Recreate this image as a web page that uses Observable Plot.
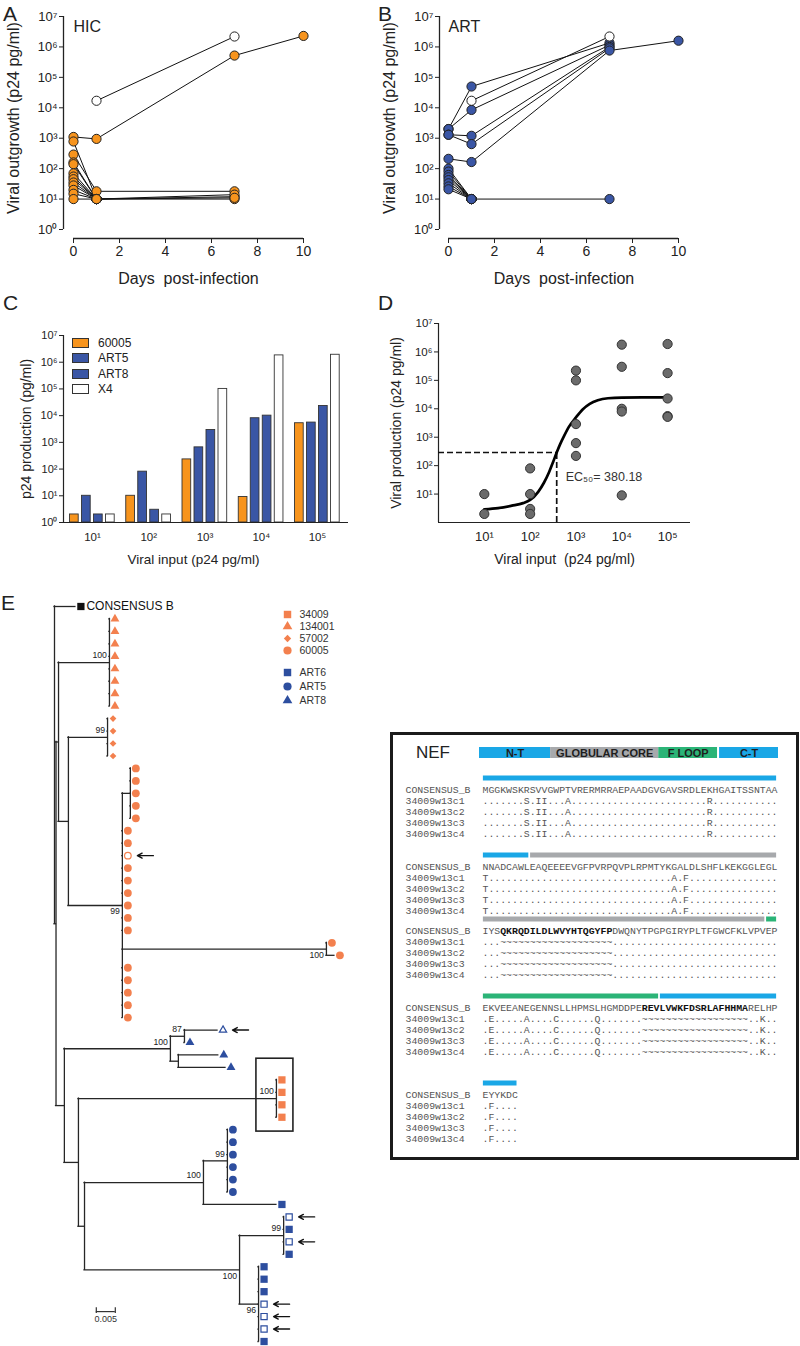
<!DOCTYPE html>
<html>
<head>
<meta charset="utf-8">
<script src="https://cdn.jsdelivr.net/npm/d3@7"></script>
<script src="https://cdn.jsdelivr.net/npm/@observablehq/plot@0.6"></script>
<style>
html,body{margin:0;padding:0;background:#fff;}
#fig{position:relative;width:800px;height:1346px;overflow:hidden;font-family:"Liberation Sans",Arial,sans-serif;color:#222;}
#fig > *{position:absolute;}
.letter{font-size:21px;line-height:1;}
.legend-c{font-size:12px;}
.legend-c .row{display:flex;align-items:center;height:15.5px;}
.legend-c .sw{width:15px;height:8px;border:1px solid #333;margin-right:9px;}
#nefbox{box-sizing:border-box;border:3px solid #1b1b1b;}
.nef-title{font-size:17px;line-height:1;}
</style>
</head>
<body>
<div id="fig"></div>
<script>
const FONT = '"Liberation Sans", Arial, sans-serif';
const MONO = '"Liberation Mono", "Courier New", monospace';
const SUP = ["⁰","¹","²","³","⁴","⁵","⁶","⁷"];
const pow10 = v => "10" + SUP[Math.round(Math.log10(v))];

// ---------------- Panel A / B : viral outgrowth ----------------
const logTicks = [1, 10, 100, 1e3, 1e4, 1e5, 1e6, 1e7];
const dayTicks = [0, 2, 4, 6, 8, 10];
const hicColor = "#F7941D";
const artColor = "#3A56A5";
const hicSeries = [
  {open: true, pts: [[1, 17000], [7, 2.2e6]]},
  {pts: [[0, 1100], [1, 950], [7, 5.2e5], [10, 2.3e6]]},
  {pts: [[0, 780], [1, 10], [7, 12]]},
  {pts: [[0, 290], [1, 18], [7, 18]]},
  {pts: [[0, 160], [1, 10], [7, 14]]},
  {pts: [[0, 140], [1, 10], [7, 10]]},
  {pts: [[0, 70], [1, 10], [7, 11]]},
  {pts: [[0, 55], [1, 10]]},
  {pts: [[0, 45], [1, 10]]},
  {pts: [[0, 35], [1, 10]]},
  {pts: [[0, 28], [1, 10]]},
  {pts: [[0, 20], [1, 10]]},
  {pts: [[0, 15], [1, 10]]},
  {pts: [[0, 10], [1, 10]]}
];
const artSeries = [
  {open: true, pts: [[1, 17000], [7, 2.2e6]]},
  {pts: [[0, 2000], [1, 50000], [7, 1.35e6]]},
  {pts: [[0, 2000], [1, 8500], [7, 1.15e6]]},
  {pts: [[0, 1300], [1, 1200], [7, 1.0e6]]},
  {pts: [[0, 1300], [1, 640], [7, 9.0e5]]},
  {pts: [[0, 210], [1, 165], [7, 7.6e5], [10, 1.6e6]]},
  {pts: [[0, 100], [1, 10], [7, 10]]},
  {pts: [[0, 80], [1, 10]]},
  {pts: [[0, 62], [1, 10]]},
  {pts: [[0, 52], [1, 10]]},
  {pts: [[0, 42], [1, 10]]},
  {pts: [[0, 33], [1, 10]]},
  {pts: [[0, 26], [1, 10]]},
  {pts: [[0, 21], [1, 10]]}
];

// ---------------- Panel C : p24 production bars ----------------
const inputLevels = [10, 100, 1000, 10000, 100000];
const isolates = ["60005", "ART5", "ART8", "X4"];
const isolateColors = ["#F7941D", "#3A56A5", "#3A56A5", "#FFFFFF"];
const p24_60005 = [2, 10, 230, 9, 5200];
const p24_ART5 = [10, 80, 650, 8000, 5500];
const p24_ART8 = [2, 3, 2900, 10000, 23000];
const p24_X4 = [2, 2, 100000, 1.8e6, 1.9e6];
const p24Production = [p24_60005, p24_ART5, p24_ART8, p24_X4];

// ---------------- Panel D : dose response ----------------
const dInputs = [10, 100, 1000, 10000, 100000];
const dProduction = [
  [10, 2],
  [80, 10, 3, 2],
  [2.2e5, 1e5, 2900, 620, 220],
  [1.8e6, 3e5, 10000, 8000, 9],
  [1.9e6, 1.8e5, 23000, 5500, 5200]
];
const fitInput  = [10, 20, 40, 70, 100, 150, 200, 260, 320, 380, 450, 550, 700, 1000, 1400, 2000, 3000, 5000, 10000, 30000, 100000];
const fitOutput = [2.9, 3.2, 3.9, 4.8, 6.2, 12, 25, 60, 140, 290, 560, 1100, 2300, 5000, 9500, 15000, 20000, 23500, 24800, 25000, 25000];
const ec50 = 380.18;
const ec50Level = 290;

// ---------------- Panel E : tree (Newick, branch lengths in subst./site) ----------------
const newick =
"(CONSENSUS_B:0.0055," +
 "(" +
  "(" +
   "(134001:0,134001:0,134001:0,134001:0,134001:0,134001:0,134001:0,134001:0)100:0.0134," +
   "(" +
    "(57002:0,57002:0,57002:0,57002:0)99:0.0103," +
    "(" +
     "(60005:0,60005:0,60005:0,60005:0,60005:0):0.0021," +
     "60005:0,60005:0,60005o:0,60005:0,60005:0,60005:0,60005:0,60005:0,60005:0," +
     "(60005:0,60005:0.0021)100v:0.0537," +
     "60005:0,60005:0,60005:0,60005:0,60005:0" +
    ")99v:0.0142" +
   "):0.0026" +
  "):0.00066," +
  "(" +
   "(" +
    "(ART8o:0.0087,ART8:0)87:0.0037," +
    "(ART8:0.0105,ART8:0.0124):0.0021" +
   ")100:0.0279," +
   "(" +
    "(34009:0,34009:0,34009:0,34009:0)100:0.0521," +
    "(" +
     "(" +
      "(ART5:0,ART5:0,ART5:0,ART5:0,ART5:0,ART5:0)99:0.0063," +
      "ART6:0.0192" +
     ")100:0.0313," +
     "(" +
      "(ART6o:0,ART6:0,ART6o:0,ART6:0)99:0.0116," +
      "(ART6:0,ART6:0,ART6:0,ART6o:0,ART6o:0,ART6o:0,ART6:0)96v:0.005" +
     ")100v:0.0408" +
    "):0.0016" +
   "):0.0037" +
  "):0.0022" +
 "):0.0004" +
");";
const treeGroups = ["34009", "134001", "57002", "60005"];
const artGroups = ["ART6", "ART5", "ART8"];
const groupSymbol = {"34009": "square", "134001": "triangle", "57002": "diamond2", "60005": "circle",
                     "ART6": "square", "ART5": "circle", "ART8": "triangle", "CONSENSUS_B": "square"};
const treeOrange = "#F3804E";
const treeBlue = "#2D4E9F";
const boxedGroup = "34009";
const scaleBar = {from: 0.011, length: 0.005, row: 56.6};

// ---------------- NEF alignment ----------------
const nefRowNames = ["CONSENSUS_B", "34009w13c1", "34009w13c2", "34009w13c3", "34009w13c4"];
const nefConsensus = [
  "MGGKWSKRSVVGWPTVRERMRRAEPAADGVGAVSRDLEKHGAITSSNTAA",
  "NNADCAWLEAQEEEEVGFPVRPQVPLRPMTYKGALDLSHFLKEKGGLEGL",
  "IYSQKRQDILDLWVYHTQGYFPDWQNYTPGPGIRYPLTFGWCFKLVPVEP",
  "EKVEEANEGENNSLLHPMSLHGMDDPEREVLVWKFDSRLAFHHMARELHP",
  "EYYKDC"
];
const nefVariant = [
  ".......S.II...A" + ".........." + ".........." + "..." + "R" + ".........." + ".",
  "T" + ".........." + ".........." + ".........." + "." + "A.F" + ".........." + ".....",
  "..." + "~~~~~~~~~~" + "~~~~~~~~~" + ".........." + ".........." + "........",
  ".E" + "....." + "A" + "...." + "C" + "......" + "Q" + "......." + "~~~~~~~~~~" + "~~~~~~~~" + "..K..",
  ".F...."
];
const nefBold = [null, null, [3, 21], [27, 44], null];
const nefBlue = "#1AA7E6", nefGray = "#A7A9AC", nefGreen = "#2BB477";
const nefDomains = [
  {name: "N-T", from: 1, to: 58, color: nefBlue},
  {name: "GLOBULAR CORE", from: 59, to: 148, color: nefGray},
  {name: "F LOOP", from: 149, to: 180, color: nefGreen},
  {name: "C-T", from: 181, to: 206, color: nefBlue}
];
const nefSchematic = [
  {name: "N-T", from: 0, to: 49, color: nefBlue},
  {name: "GLOBULAR CORE", from: 49, to: 123.5, color: nefGray},
  {name: "F LOOP", from: 123.5, to: 164, color: nefGreen},
  {name: "C-T", from: 165.4, to: 206, color: nefBlue}
];

// =====================================================================
const fig = document.getElementById("fig");
const baseStyle = {fontFamily: FONT, fontSize: "12px", color: "#222", background: "transparent", overflow: "visible"};
function place(el, left, top) { el.style.left = left + "px"; el.style.top = top + "px"; fig.appendChild(el); return el; }
function html(tag, cls, text) { const e = document.createElement(tag); if (cls) e.className = cls; if (text != null) e.textContent = text; return e; }

// ---- A / B
function outgrowth({series, color, title, width, marginLeft, inset}) {
  const rows = series.flatMap((s, k) => s.pts.map(([day, v]) => ({k, day, v, open: !!s.open})))
    .sort((a, b) => a.open - b.open);
  return Plot.plot({
    width, height: 300,
    marginLeft, marginRight: width - (marginLeft + inset + 230), marginTop: 16, marginBottom: 62,
    style: baseStyle,
    color: {type: "identity"},
    x: {domain: [0, 10], insetLeft: inset},
    y: {type: "log", domain: [1, 1e7], insetBottom: 9},
    marks: [
      Plot.axisY({ticks: logTicks, tickFormat: pow10, tickSize: 4, tickPadding: 2, fontSize: 13, label: null}),
      Plot.axisX({ticks: dayTicks, tickSize: 5, tickPadding: 3, fontSize: 14, label: null}),
      Plot.ruleX([0], {y1: 1, y2: 1e7, dx: -inset, stroke: "#222", strokeWidth: 1.3}),
      Plot.ruleY([1], {x1: 0, x2: 10, dy: 9, stroke: "#222", strokeWidth: 1.3}),
      Plot.line(rows, {x: "day", y: "v", z: "k", stroke: "#111", strokeWidth: 1}),
      Plot.dot(rows, {x: "day", y: "v", r: 4.6, fill: d => d.open ? "#fff" : color, stroke: "#222", strokeWidth: 1}),
      Plot.text([title], {text: d => d, frameAnchor: "top-left", dx: inset, dy: 4, fontSize: 16, textAnchor: "start"}),
      Plot.text(["Days\u00a0 post-infection"], {text: d => d, frameAnchor: "bottom", lineAnchor: "middle", dx: 5, dy: 40, fontSize: 16}),
      Plot.text(["Viral outgrowth (p24 pg/ml)"], {text: d => d, frameAnchor: "left", textAnchor: "middle", lineAnchor: "middle", rotate: -90, dx: -49.5, dy: -9.5, fontSize: 16})
    ]
  });
}
place(outgrowth({series: hicSeries, color: hicColor, title: "HIC", width: 370, marginLeft: 63, inset: 10}), 0, 0);
place(outgrowth({series: artSeries, color: artColor, title: "ART", width: 430, marginLeft: 69, inset: 9}), 370, 0);

// ---- C
{
  const cGroupPx = 56.25, cBarLeftPx = -22.5, cBarStepPx = 12, cBarWPx = 8.7;
  const cDomain = [-0.5156, 4.551];
  const rows = isolates.flatMap((iso, i) => inputLevels.map((lvl, j) => ({i, j, v: p24Production[i][j]})));
  const svg = Plot.plot({
    width: 370, height: 260, marginLeft: 63, marginRight: 22, marginTop: 15, marginBottom: 58,
    style: baseStyle,
    color: {type: "identity"},
    x: {domain: cDomain},
    y: {type: "log", domain: [1, 1e7]},
    marks: [
      Plot.rectY(rows, {
        x1: d => d.j + (cBarLeftPx + cBarStepPx * d.i) / cGroupPx,
        x2: d => d.j + (cBarLeftPx + cBarStepPx * d.i + cBarWPx) / cGroupPx,
        y1: 1, y2: "v", fill: d => isolateColors[d.i], stroke: "#333", strokeWidth: 0.9
      }),
      Plot.axisY({ticks: logTicks, tickFormat: pow10, tickSize: 4, tickPadding: 2, fontSize: 11, label: null}),
      Plot.axisX({ticks: inputLevels.map((_, j) => j), tickFormat: j => pow10(inputLevels[j]), tickSize: 0, tickPadding: 10, fontSize: 11.5, label: null}),
      Plot.ruleY([1], {stroke: "#222", strokeWidth: 1.2}),
      Plot.ruleX([cDomain[0]], {y1: 1, y2: 1e7, stroke: "#222", strokeWidth: 1.2}),
      Plot.text(["Viral input (p24 pg/ml)"], {text: d => d, frameAnchor: "bottom", lineAnchor: "middle", dx: -12.5, dy: 37, fontSize: 13.5}),
      Plot.text(["p24 production (pg/ml)"], {text: d => d, frameAnchor: "left", textAnchor: "middle", lineAnchor: "middle", rotate: -90, dx: -37, fontSize: 14})
    ]
  });
  place(svg, 0, 320);
  const leg = html("div", "legend-c");
  isolates.forEach((iso, i) => {
    const row = html("div", "row");
    const sw = html("span", "sw"); sw.style.background = isolateColors[i];
    row.appendChild(sw); row.appendChild(html("span", null, iso));
    leg.appendChild(row);
  });
  place(leg, 72, 335);
}

// ---- D
{
  const rows = dInputs.flatMap((x, j) => dProduction[j].map(v => ({x, v})));
  const fit = fitInput.map((x, k) => ({x, v: fitOutput[k]}));
  const xDom = [1, 10 ** 5.5];
  const svg = Plot.plot({
    width: 430, height: 270, marginLeft: 68, marginRight: 110, marginTop: 13, marginBottom: 58,
    style: baseStyle,
    x: {type: "log", domain: xDom},
    y: {type: "log", domain: [1, 1e7]},
    marks: [
      Plot.axisY({ticks: logTicks.slice(1), tickFormat: pow10, tickSize: 4, tickPadding: 2, fontSize: 11.5, label: null}),
      Plot.axisX({ticks: dInputs, tickFormat: pow10, tickSize: 0, tickPadding: 9, fontSize: 13, label: null}),
      Plot.ruleX([xDom[0]], {y1: 1, y2: 1e7, stroke: "#222", strokeWidth: 1.2}),
      Plot.ruleY([1], {x1: xDom[0], x2: xDom[1], stroke: "#222", strokeWidth: 1.2}),
      Plot.ruleX([ec50], {y1: 1, y2: ec50Level, stroke: "#111", strokeWidth: 1.7, strokeDasharray: "6,3"}),
      Plot.ruleY([ec50Level], {x1: xDom[0], x2: ec50, stroke: "#111", strokeWidth: 1.7, strokeDasharray: "6,3"}),
      Plot.line(fit, {x: "x", y: "v", curve: "monotone-x", stroke: "#000", strokeWidth: 2.7}),
      Plot.dot(rows, {x: "x", y: "v", r: 4.6, fill: "#6b6b6b", stroke: "#333", strokeWidth: 1}),
      Plot.text(["EC₅₀= " + ec50], {text: d => d, x: ec50, y: ec50Level, dx: 9, dy: 25, textAnchor: "start", fontSize: 12.5, fill: "#333"}),
      Plot.text(["Viral input\u00a0 (p24 pg/ml)"], {text: d => d, frameAnchor: "bottom", lineAnchor: "middle", dy: 37, fontSize: 14}),
      Plot.text(["Viral production (p24 pg/ml)"], {text: d => d, frameAnchor: "left", textAnchor: "middle", lineAnchor: "middle", rotate: -90, dx: -42, fontSize: 14})
    ]
  });
  place(svg, 370, 310);
}

// ---- E tree
function parseNewick(str) {
  let i = 0;
  function readNode() {
    const node = {children: []};
    if (str[i] === "(") {
      i++;
      for (;;) { node.children.push(readNode()); const c = str[i++]; if (c === ")") break; }
    }
    let label = "";
    while (i < str.length && !",():;".includes(str[i])) label += str[i++];
    let len = 0;
    if (str[i] === ":") { i++; let num = ""; while (i < str.length && !",();".includes(str[i])) num += str[i++]; len = +num; }
    node.label = label; node.len = len;
    return node;
  }
  return readNode();
}
{
  const root = parseNewick(newick);
  const nodes = [];
  let leafCounter = 0;
  (function layout(n, px) {
    n.px = px; n.x = px + n.len;
    if (n.children.length) {
      n.children.forEach(c => layout(c, n.x));
      n.y = (n.children[0].y + n.children[n.children.length - 1].y) / 2;
    } else n.y = leafCounter++;
    nodes.push(n);
  })(root, 0);

  const TX0 = 54, TPX = 3800; // pixels per substitution unit (0.005 -> 19 px)
  const xDom = [0, 0.08];
  const internal = nodes.filter(n => n.children.length);
  const branchH = nodes.filter(n => n !== root).map(n => ({x1: n.px, x2: n.x, y: n.y}));
  const branchV = internal.map(n => ({x: n.x, y1: n.children[0].y, y2: n.children[n.children.length - 1].y}));
  const boots = internal.filter(n => n.label).map(n => ({x: n.x, y: n.y, text: n.label.replace("v", ""), below: n.label.endsWith("v")}));
  const leaves = nodes.filter(n => !n.children.length).map(n => ({x: n.x, y: n.y, group: n.label.replace(/o$/, ""), open: /o$/.test(n.label)}));
  const colorOf = g => g === "CONSENSUS_B" ? "#111" : g.startsWith("ART") ? treeBlue : treeOrange;
  const rOf = {square: 4.1, circle: 3.9, triangle: 3.3, diamond2: 3.0};
  const symMarks = Object.keys(rOf).flatMap(sym => {
    const L = leaves.filter(d => groupSymbol[d.group] === sym);
    return [
      Plot.dot(L.filter(d => !d.open), {x: "x", y: "y", dx: 5.5, symbol: sym, r: rOf[sym], fill: d => colorOf(d.group), stroke: "none"}),
      Plot.dot(L.filter(d => d.open), {x: "x", y: "y", dx: 5.5, symbol: sym, r: rOf[sym] - 0.6, fill: "#fff", stroke: d => colorOf(d.group), strokeWidth: 1.2})
    ];
  });
  const boxed = internal.filter(n => n.children.every(c => !c.children.length && c.label === boxedGroup))
    .map(n => ({x1: n.x - 20 / TPX, x2: n.x + 17 / TPX, y1: n.children[0].y - 1.7, y2: n.children[n.children.length - 1].y + 1.15}));

  const svg = Plot.plot({
    width: 390, height: 756, margin: 0,
    style: baseStyle,
    color: {type: "identity"},
    x: {domain: xDom, range: [TX0, TX0 + TPX * xDom[1]], axis: null},
    y: {domain: [0, 59], range: [16, 751], axis: null},
    marks: [
      Plot.ruleY(branchH, {y: "y", x1: "x1", x2: "x2", stroke: "#262626", strokeWidth: 1.3, strokeLinecap: "square"}),
      Plot.ruleX(branchV, {x: "x", y1: "y1", y2: "y2", stroke: "#262626", strokeWidth: 1.3, strokeLinecap: "square"}),
      Plot.rect(boxed, {x1: "x1", x2: "x2", y1: "y1", y2: "y2", fill: "none", stroke: "#222", strokeWidth: 1.6}),
      ...symMarks,
      Plot.text(leaves.filter(d => d.group === "CONSENSUS_B"), {x: "x", y: "y", dx: 11, text: d => d.group.replace("_", " "), textAnchor: "start", fontSize: 12, fill: "#111"}),
      Plot.text(boots.filter(d => !d.below), {x: "x", y: "y", text: "text", dx: -2.5, dy: -7, textAnchor: "end", fontSize: 8.7, fill: "#222"}),
      Plot.text(boots.filter(d => d.below), {x: "x", y: "y", text: "text", dx: -2.5, dy: 6, textAnchor: "end", fontSize: 8.7, fill: "#222"}),
      Plot.arrow(leaves.filter(d => d.open), {x1: d => d.x + 31 / TPX, x2: d => d.x + 15 / TPX, y1: "y", y2: "y", stroke: "#111", strokeWidth: 1.4, headLength: 7, headAngle: 55}),
      Plot.ruleY([scaleBar], {y: "row", x1: d => d.from, x2: d => d.from + d.length, stroke: "#333", strokeWidth: 1.2}),
      Plot.ruleX([scaleBar.from, scaleBar.from + scaleBar.length], {y1: scaleBar.row - 0.3, y2: scaleBar.row + 0.15, stroke: "#333", strokeWidth: 1.2}),
      Plot.text([scaleBar], {x: d => d.from + d.length / 2, y: "row", dy: 8, text: d => String(d.length), fontSize: 9, fill: "#333"})
    ]
  });
  place(svg, 0, 590);

  function treeLegend(groups, step) {
    const range = [10, 10 + step * (groups.length - 1)];
    const rL = {square: 4.2, circle: 4.1, triangle: 3.6, diamond2: 3.3};
    return Plot.plot({
      width: 110, height: range[1] + 10, marginLeft: 17, marginRight: 0, marginTop: 0, marginBottom: 0,
      style: baseStyle,
      color: {type: "identity"},
      y: {type: "point", domain: groups, range, padding: 0, axis: null},
      marks: [
        ...Object.keys(rL).map(sym => Plot.dot(groups.filter(g => groupSymbol[g] === sym), {y: d => d, frameAnchor: "left", symbol: sym, r: rL[sym], fill: d => colorOf(d)})),
        Plot.text(groups, {y: d => d, text: d => d, frameAnchor: "left", dx: 12, textAnchor: "start", fontSize: 10.5, fill: "#333"})
      ]
    });
  }
  place(treeLegend(treeGroups, 12.8), 270, 603);
  place(treeLegend(artGroups, 14), 270, 662);
}

// ---- NEF panel
{
  const box = html("div"); box.id = "nefbox";
  box.style.width = "409px"; box.style.height = "428px";
  place(box, 390, 732);
  place(html("div", "nef-title", "NEF"), 416, 744);

  const schem = Plot.plot({
    width: 320, height: 17, marginTop: 3, marginBottom: 3, marginLeft: 0, marginRight: 0,
    style: baseStyle,
    color: {type: "identity"},
    x: {domain: [0, 206], range: [9, 308], axis: null},
    marks: [
      Plot.rect(nefSchematic, {x1: "from", x2: "to", fill: "color"}),
      Plot.text(nefSchematic, {x: d => (d.from + d.to) / 2, text: "name", fontWeight: "bold", fontSize: 11, fill: "#1e1e1e"})
    ]
  });
  place(schem, 470, 744);

  const blockFirstRow = [788, 865, 929, 1006, 1093];
  nefConsensus.forEach((cons, b) => {
    const vari = nefVariant[b];
    const bold = nefBold[b];
    const chars = [];
    nefRowNames.forEach((row, r) => {
      const s = r === 0 ? cons : vari;
      for (let c = 0; c < s.length; c++) chars.push({row, col: c, ch: s[c], bold: r === 0 && bold != null && c >= bold[0] && c <= bold[1]});
    });
    const start = b * 50 + 1, end = b * 50 + cons.length;
    const segs = nefDomains.filter(d => d.to >= start && d.from <= end)
      .map(d => ({row: nefRowNames[0], x1: Math.max(d.from, start) - start, x2: Math.min(d.to, end) - start + 1, color: d.color}));
    const svg = Plot.plot({
      width: 390, height: 72, marginLeft: 5, marginRight: 0, marginTop: 0, marginBottom: 0,
      style: baseStyle,
      color: {type: "identity"},
      x: {domain: [0, 50], range: [82, 377], axis: null},
      y: {type: "point", domain: nefRowNames, range: [20, 65.2], padding: 0, axis: null},
      marks: [
        Plot.ruleY(segs, {y: "row", x1: d => d.x1 + 0.15, x2: d => d.x2 - 0.15, stroke: "color", strokeWidth: 5, dy: -11.5}),
        Plot.text(nefRowNames, {y: d => d, text: d => d, frameAnchor: "left", textAnchor: "start", fontFamily: MONO, fontSize: 9.85, fill: "#555"}),
        Plot.text(chars.filter(d => !d.bold), {x: d => d.col + 0.5, y: "row", text: "ch", fontFamily: MONO, fontSize: 9.85, fill: "#555"}),
        Plot.text(chars.filter(d => d.bold), {x: d => d.col + 0.5, y: "row", text: "ch", fontFamily: MONO, fontSize: 9.85, fontWeight: "bold", fill: "#111"})
      ]
    });
    place(svg, 400, blockFirstRow[b] - 20);
  });
}

// ---- panel letters
[["A", 3, 3], ["B", 378, 3], ["C", 3, 292], ["D", 378, 292], ["E", 1, 592]].forEach(([t, x, y]) => place(html("div", "letter", t), x, y));
</script>
</body>
</html>
